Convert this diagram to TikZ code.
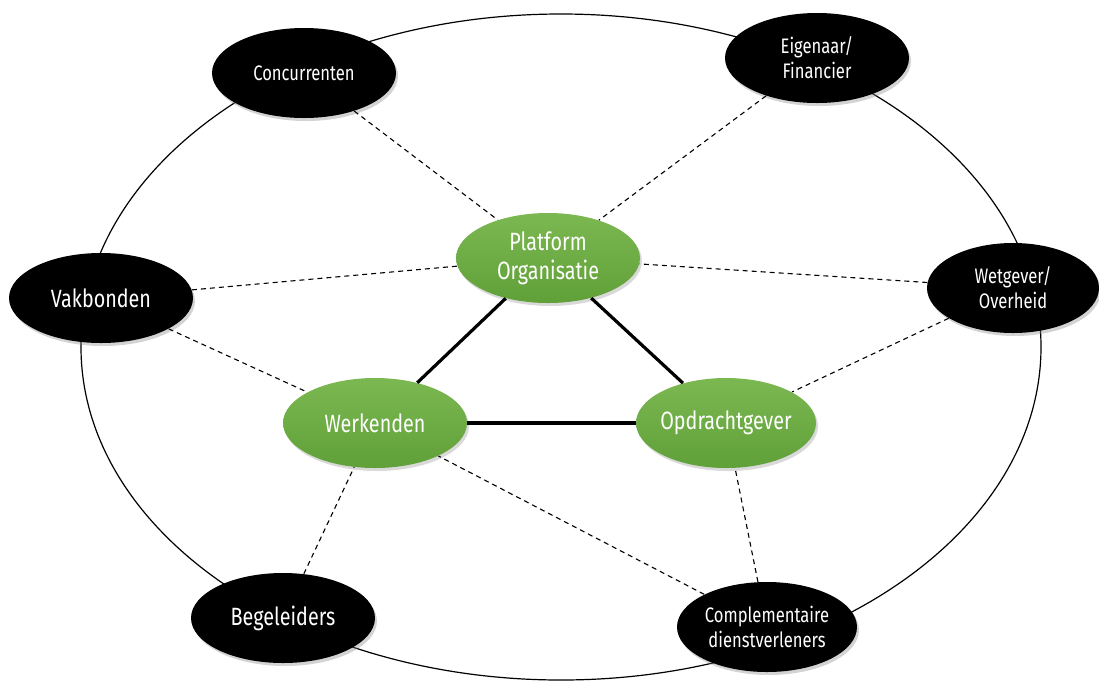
\documentclass[tikz,border=0pt]{standalone}
\usepackage{fontspec}
\setmainfont{Fira Sans}[FakeStretch=0.79]
\usepackage{tikz}
\usetikzlibrary{shapes.geometric,shadows}

\begin{document}
\begin{tikzpicture}[
        x=0.5pt, y=-0.5pt,
        actor/.style={ellipse, fill=black, text=white, align=center,
            minimum width=92pt, minimum height=45pt, inner sep=0pt,
            drop shadow={shadow xshift=1pt, shadow yshift=-1.5pt, opacity=.35},
            font=\fontsize{10.5}{12.5}\selectfont},
        big actor/.style={actor, font=\fontsize{12.5}{14}\selectfont},
        core/.style={ellipse, align=center,
            top color={rgb,255:red,124;green,184;blue,82},
            bottom color={rgb,255:red,96;green,160;blue,56},
            text=white, minimum width=92pt, minimum height=45pt, inner sep=0pt,
            drop shadow={shadow xshift=1pt, shadow yshift=-1.5pt, opacity=.3},
            font=\fontsize{12.5}{14.5}\selectfont},
        tie/.style={line width=1.6pt},
        link/.style={line width=0.55pt, dash pattern=on 2.5pt off 2pt},
    ]
    \useasboundingbox (0,0) rectangle (1099,682);

    % outer ring
    \draw[line width=0.6pt] (561,347) ellipse [x radius=480, y radius=333];

    % core triangle
    \node[core] (platform) at (548,258) {Platform\\Organisatie};
    \node[core] (werk) at (375,423) {Werkenden};
    \node[core, minimum width=90pt, inner xsep=-4pt] (opdracht) at (726,423) {Opdrachtgever};

    % stakeholders
    \node[actor] (conc) at (304,73) {Concurrenten};
    \node[actor] (eigen) at (817,58) {Eigenaar/\\Financier};
    \node[big actor] (vak) at (101,298) {Vakbonden};
    \node[actor, minimum width=86pt] (wet) at (1013,288) {Wetgever/\\Overheid};
    \node[big actor] (begel) at (283,618) {Begeleiders};
    \node[actor, minimum width=90pt] (compl) at (767,627) {Complementaire\\dienstverleners};

    \draw[tie] (platform) -- (werk);
    \draw[tie] (platform) -- (opdracht);
    \draw[tie] (werk) -- (opdracht);

    % dashed relations
    \draw[link] (conc) -- (platform);
    \draw[link] (eigen) -- (platform);
    \draw[link] (vak) -- (platform);
    \draw[link] (wet) -- (platform);
    \draw[link] (vak) -- (werk);
    \draw[link] (wet) -- (opdracht);
    \draw[link] (begel) -- (werk);
    \draw[link] (compl) -- (opdracht);
    \draw[link] (compl) -- (werk);
\end{tikzpicture}
\end{document}
